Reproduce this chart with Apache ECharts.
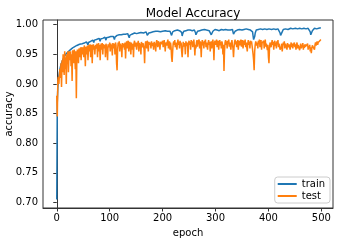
<!DOCTYPE html>
<html><head><meta charset="utf-8">
<script src="https://cdn.jsdelivr.net/npm/echarts@6/dist/echarts.min.js"></script>
<style>html,body{margin:0;padding:0;background:#fff}#c{width:340px;height:241px}</style>
</head><body><div id="c"></div>
<script>
const title = "Model Accuracy";
const xName = "epoch";
const yName = "accuracy";
const seriesNames = ["train", "test"];
const xTicks = [0, 100, 200, 300, 400, 500];
const yTicks = [0.70, 0.75, 0.80, 0.85, 0.90, 0.95, 1.00];
const train = [
0.705,0.870,0.893,0.905,0.913,0.919,0.925,0.929,0.933,0.936,0.938,0.941,0.942,0.944,0.946,0.947,0.949,0.950,0.951,0.952,0.953,0.954,0.955,0.956,0.957,
0.957,0.958,0.959,0.959,0.960,0.961,0.961,0.962,0.962,0.963,0.963,0.964,0.964,0.965,0.965,0.965,0.966,0.966,0.967,0.967,0.967,0.968,0.968,0.968,0.969,
0.969,0.970,0.969,0.970,0.971,0.970,0.971,0.972,0.971,0.966,0.970,0.972,0.972,0.973,0.972,0.973,0.974,0.973,0.974,0.974,0.970,0.974,0.975,0.975,0.974,
0.975,0.976,0.975,0.976,0.976,0.977,0.976,0.972,0.976,0.977,0.977,0.978,0.977,0.978,0.977,0.978,0.979,0.978,0.974,0.978,0.979,0.979,0.980,0.979,0.980,
0.980,0.979,0.980,0.981,0.980,0.981,0.981,0.980,0.981,0.975,0.979,0.981,0.982,0.981,0.982,0.982,0.981,0.982,0.983,0.982,0.983,0.982,0.983,0.983,0.982,
0.983,0.984,0.983,0.984,0.983,0.984,0.984,0.983,0.984,0.985,0.984,0.985,0.978,0.982,0.984,0.985,0.985,0.984,0.985,0.986,0.985,0.985,0.986,0.985,0.986,
0.986,0.985,0.986,0.986,0.987,0.986,0.986,0.987,0.986,0.987,0.987,0.986,0.987,0.987,0.986,0.987,0.988,0.987,0.987,0.988,0.987,0.982,0.979,0.984,0.986,
0.987,0.987,0.988,0.987,0.988,0.988,0.987,0.988,0.988,0.989,0.988,0.988,0.989,0.988,0.989,0.988,0.989,0.989,0.988,0.989,0.989,0.988,0.989,0.989,0.990,
0.989,0.989,0.990,0.989,0.989,0.990,0.989,0.990,0.990,0.989,0.990,0.989,0.990,0.990,0.989,0.990,0.986,0.982,0.985,0.988,0.989,0.990,0.989,0.990,0.990,
0.989,0.990,0.990,0.991,0.990,0.990,0.989,0.990,0.991,0.990,0.990,0.987,0.981,0.985,0.988,0.989,0.990,0.990,0.991,0.990,0.990,0.991,0.990,0.991,0.990,
0.991,0.990,0.991,0.990,0.991,0.991,0.990,0.991,0.991,0.990,0.991,0.990,0.987,0.983,0.982,0.986,0.989,0.990,0.990,0.991,0.990,0.991,0.991,0.990,0.991,
0.991,0.990,0.991,0.991,0.992,0.991,0.991,0.990,0.991,0.991,0.992,0.991,0.991,0.990,0.991,0.991,0.988,0.983,0.981,0.986,0.989,0.990,0.991,0.991,0.992,
0.991,0.991,0.992,0.991,0.991,0.992,0.991,0.990,0.991,0.992,0.991,0.992,0.991,0.991,0.992,0.991,0.992,0.992,0.991,0.992,0.991,0.992,0.992,0.991,0.992,
0.991,0.992,0.992,0.991,0.992,0.992,0.991,0.992,0.989,0.984,0.982,0.986,0.989,0.991,0.991,0.992,0.991,0.992,0.992,0.991,0.992,0.992,0.993,0.992,0.992,
0.991,0.992,0.992,0.993,0.992,0.992,0.991,0.992,0.993,0.992,0.992,0.993,0.992,0.992,0.993,0.992,0.991,0.992,0.993,0.992,0.988,0.981,0.975,0.974,0.980,
0.986,0.989,0.991,0.992,0.992,0.993,0.992,0.992,0.993,0.992,0.993,0.992,0.992,0.993,0.992,0.993,0.993,0.992,0.993,0.992,0.993,0.993,0.992,0.993,0.993,
0.992,0.993,0.993,0.992,0.993,0.993,0.992,0.993,0.993,0.994,0.993,0.992,0.993,0.993,0.992,0.993,0.993,0.994,0.993,0.993,0.992,0.990,0.986,0.982,0.981,
0.984,0.988,0.991,0.992,0.993,0.993,0.992,0.993,0.993,0.994,0.993,0.993,0.992,0.993,0.994,0.993,0.993,0.994,0.993,0.993,0.994,0.993,0.993,0.994,0.993,
0.993,0.994,0.993,0.993,0.994,0.993,0.994,0.993,0.993,0.994,0.993,0.994,0.994,0.993,0.994,0.993,0.993,0.994,0.993,0.994,0.994,0.993,0.994,0.994,0.993,
0.994,0.993,0.994,0.992,0.988,0.983,0.982,0.986,0.990,0.992,0.993,0.993,0.994,0.993,0.994,0.994,0.993,0.994,0.994,0.995,0.994,0.994,0.995,0.995,0.995
];
const test = [
0.880,0.845,0.905,0.912,0.900,0.915,0.925,0.910,0.935,0.895,0.940,0.920,0.950,0.930,0.915,0.955,0.925,0.945,0.900,0.950,0.935,0.955,0.920,0.945,0.955,
0.940,0.955,0.930,0.950,0.905,0.957,0.945,0.935,0.958,0.950,0.925,0.955,0.876,0.945,0.958,0.950,0.935,0.960,0.955,0.945,0.962,0.940,0.958,0.962,0.950,
0.962,0.945,0.965,0.958,0.930,0.963,0.960,0.950,0.965,0.940,0.962,0.966,0.955,0.967,0.945,0.960,0.966,0.935,0.962,0.967,0.958,0.964,0.950,0.966,0.968,
0.960,0.968,0.945,0.965,0.969,0.955,0.966,0.940,0.962,0.968,0.958,0.969,0.950,0.967,0.970,0.960,0.966,0.945,0.968,0.970,0.957,0.940,0.967,0.969,0.962,
0.970,0.955,0.968,0.971,0.962,0.948,0.969,0.972,0.960,0.968,0.950,0.970,0.965,0.935,0.923,0.958,0.970,0.966,0.972,0.955,0.968,0.971,0.963,0.945,0.969,
0.972,0.962,0.968,0.958,0.970,0.943,0.965,0.972,0.960,0.969,0.973,0.955,0.967,0.971,0.962,0.950,0.970,0.972,0.958,0.968,0.945,0.969,0.973,0.963,0.970,
0.972,0.958,0.970,0.966,0.973,0.955,0.969,0.972,0.964,0.950,0.971,0.974,0.962,0.969,0.972,0.958,0.935,0.966,0.972,0.970,0.960,0.973,0.968,0.955,0.971,
0.974,0.966,0.970,0.960,0.972,0.975,0.964,0.969,0.958,0.971,0.973,0.965,0.955,0.970,0.974,0.968,0.962,0.972,0.975,0.966,0.958,0.971,0.973,0.967,0.970,
0.973,0.962,0.968,0.974,0.966,0.955,0.970,0.973,0.965,0.971,0.975,0.960,0.968,0.972,0.958,0.970,0.962,0.945,0.937,0.955,0.968,0.972,0.966,0.974,0.962,
0.970,0.973,0.958,0.968,0.975,0.966,0.971,0.960,0.973,0.965,0.970,0.955,0.945,0.960,0.971,0.974,0.963,0.969,0.950,0.972,0.975,0.964,0.970,0.945,0.968,
0.973,0.966,0.971,0.958,0.974,0.968,0.972,0.962,0.970,0.975,0.965,0.948,0.966,0.960,0.970,0.974,0.963,0.971,0.968,0.975,0.960,0.972,0.966,0.945,0.969,
0.974,0.965,0.971,0.960,0.973,0.968,0.975,0.962,0.970,0.973,0.958,0.969,0.974,0.966,0.971,0.955,0.968,0.972,0.960,0.970,0.975,0.965,0.940,0.968,0.973,
0.966,0.971,0.975,0.962,0.969,0.973,0.958,0.970,0.974,0.965,0.971,0.960,0.972,0.968,0.950,0.966,0.922,0.955,0.970,0.974,0.966,0.972,0.960,0.973,0.968,
0.975,0.963,0.970,0.972,0.958,0.969,0.974,0.966,0.960,0.945,0.962,0.971,0.975,0.967,0.972,0.962,0.970,0.974,0.958,0.968,0.973,0.965,0.971,0.975,0.963,
0.970,0.974,0.960,0.968,0.973,0.966,0.975,0.962,0.970,0.972,0.955,0.969,0.974,0.966,0.971,0.960,0.973,0.968,0.972,0.965,0.958,0.950,0.940,0.923,0.955,
0.966,0.972,0.974,0.965,0.970,0.960,0.973,0.968,0.975,0.962,0.970,0.974,0.958,0.969,0.972,0.966,0.973,0.960,0.970,0.975,0.963,0.968,0.971,0.957,0.966,
0.945,0.935,0.960,0.970,0.973,0.962,0.968,0.974,0.966,0.971,0.958,0.969,0.973,0.964,0.970,0.960,0.972,0.967,0.974,0.962,0.968,0.963,0.958,0.955,0.962,
0.968,0.955,0.962,0.970,0.966,0.972,0.960,0.968,0.971,0.963,0.958,0.969,0.972,0.962,0.967,0.970,0.958,0.965,0.970,0.962,0.968,0.960,0.966,0.963,0.970,
0.962,0.967,0.958,0.965,0.970,0.960,0.966,0.963,0.969,0.957,0.964,0.968,0.960,0.966,0.962,0.969,0.958,0.965,0.961,0.967,0.963,0.960,0.966,0.962,0.968,
0.958,0.964,0.960,0.966,0.955,0.962,0.952,0.960,0.965,0.962,0.968,0.964,0.958,0.966,0.970,0.965,0.968,0.972,0.966,0.970,0.973,0.969,0.972,0.974,0.975
];
const colors = ["#1f77b4", "#ff7f0e"];
const font = "DejaVu Sans";
const chart = echarts.init(document.getElementById('c'), null, {renderer: 'canvas'});
const pairs = arr => arr.map((v, i) => [i, v]);
chart.setOption({
  animation: false,
  backgroundColor: '#fff',
  title: {text: title, left: 188, top: 3, textAlign: 'center',
    textStyle: {fontFamily: font, fontSize: 12, fontWeight: 'normal', color: '#000'}},
  grid: {left: 43, right: 7, top: 20, bottom: 33, show: true, borderColor: '#333', borderWidth: 1,
    backgroundColor: 'transparent', containLabel: false, outerBoundsMode: 'none'},
  legend: {
    orient: 'vertical', right: 10, bottom: 38,
    data: seriesNames.map((n, i) => ({name: n, icon: 'rect', itemStyle: {color: colors[i]}})),
    itemWidth: 19, itemHeight: 2, itemGap: 2,
    padding: [2, 5, 2, 3],
    borderColor: '#ccc', borderWidth: 1, borderRadius: 3, backgroundColor: '#fff',
    textStyle: {fontFamily: font, fontSize: 10, color: '#000'}
  },
  xAxis: {
    type: 'value', min: -26, max: 522,
    name: xName, nameLocation: 'middle', nameGap: 20, nameMoveOverlap: false,
    nameTextStyle: {fontFamily: font, fontSize: 10, color: '#000'},
    axisLine: {show: true, lineStyle: {color: '#333'}},
    axisTick: {show: true, length: 3.5, inside: false, customValues: xTicks, lineStyle: {color: '#333'}},
    axisLabel: {customValues: xTicks, fontFamily: font, fontSize: 10, color: '#000', margin: 5},
    splitLine: {show: false}
  },
  yAxis: {
    type: 'value', min: 0.6905, max: 1.008,
    name: yName, nameLocation: 'middle', nameGap: 29, nameRotate: 90, nameMoveOverlap: false,
    nameTextStyle: {fontFamily: font, fontSize: 10, color: '#000'},
    axisLine: {show: true, lineStyle: {color: '#333'}},
    axisTick: {show: true, length: 3.5, customValues: yTicks, lineStyle: {color: '#333'}},
    axisLabel: {customValues: yTicks, fontFamily: font, fontSize: 10, color: '#000', margin: 5,
      formatter: v => v.toFixed(2)},
    splitLine: {show: false}
  },
  series: [
    {name: seriesNames[0], type: 'line', data: pairs(train), showSymbol: false, symbol: 'none',
      lineStyle: {color: colors[0], width: 1.5}, itemStyle: {color: colors[0]}, z: 2},
    {name: seriesNames[1], type: 'line', data: pairs(test), showSymbol: false, symbol: 'none',
      lineStyle: {color: colors[1], width: 1.5}, itemStyle: {color: colors[1]}, z: 3}
  ]
});
</script>
</body></html>
